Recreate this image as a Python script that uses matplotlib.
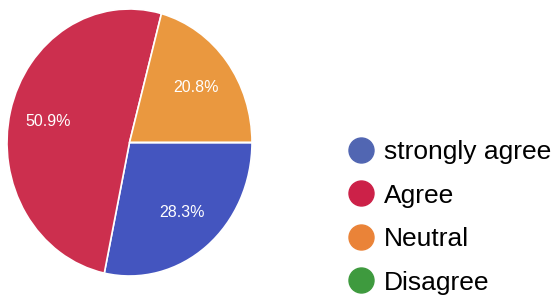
import matplotlib.pyplot as plt
from matplotlib.lines import Line2D

# données du graphique
categories = ["strongly agree", "Agree", "Neutral", "Disagree"]
valeurs = [28.3, 50.9, 20.8, 0.0]
couleurs = ["#4455bf", "#cc2f4e", "#ea983f", "#3d9a3d"]
couleurs_legende = ["#5166b2", "#cc2148", "#ea8338", "#3e9a3e"]

plt.rcParams['font.family'] = ['Liberation Sans', 'DejaVu Sans']

fig = plt.figure(figsize=(5.55, 3.03), dpi=100)
ax = fig.add_axes([7 / 555, 27 / 303, 245 / 555, 267 / 303])

wedges, textes, autotextes = ax.pie(
    valeurs, colors=couleurs, startangle=0, counterclock=False,
    autopct=lambda p: f"{p:.1f}%" if p > 0 else "", pctdistance=0.68,
    wedgeprops=dict(edgecolor="white", linewidth=1.2),
    textprops=dict(color="white", fontsize=11.5),
)
ax.set_aspect('auto')
ax.set_xlim(-1, 1)
ax.set_ylim(-1, 1)

# légende avec des cercles
poignees = [Line2D([0], [0], marker="o", linestyle="", markersize=18,
                   markerfacecolor=c, markeredgecolor=c) for c in couleurs_legende]
fig.legend(poignees, categories, loc="upper left", bbox_to_anchor=(346 / 555, 1 - 140 / 303),
           frameon=False, fontsize=19, labelspacing=0.74, handletextpad=0.35,
           handlelength=1.1, borderaxespad=0, borderpad=0)

fig.savefig("out.png", dpi=100)
